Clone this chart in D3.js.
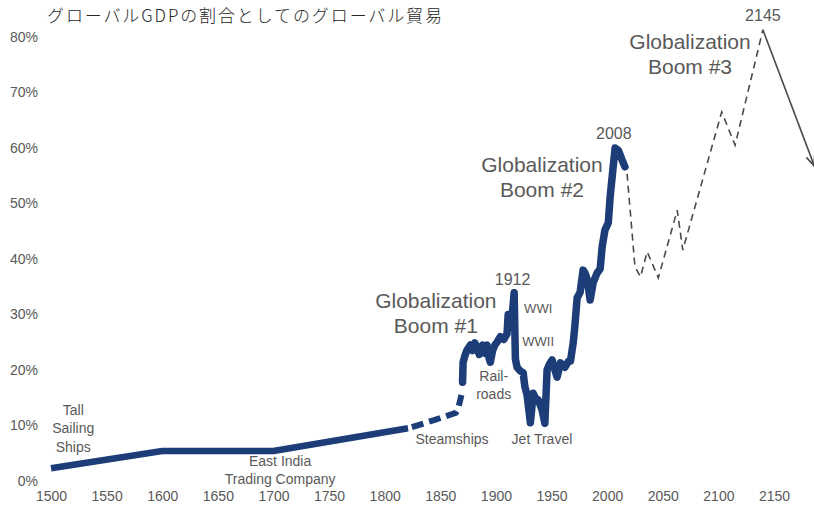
<!DOCTYPE html>
<html><head><meta charset="utf-8">
<script src="https://cdn.jsdelivr.net/npm/d3@7"></script>
<style>
html,body{margin:0;padding:0;background:#fff;}
svg{display:block;}
</style></head>
<body>
<svg id="c" width="814" height="507"></svg>
<script>
// ---- data ----
const xTicks = [1500,1550,1600,1650,1700,1750,1800,1850,1900,1950,2000,2050,2100,2150];
const yTicks = [0,10,20,30,40,50,60,70,80];

// era 1: sailing ships / trading companies (solid)
const earlyYears  = [1500, 1600, 1700, 1821];
const earlyValues = [2.3, 5.4, 5.4, 9.5];

// era 2: steamships (thick dashed)
const steamYears  = [1821, 1845, 1864, 1866, 1869];
const steamValues = [9.5, 11.0, 12.3, 13.0, 15.5];

// era 3: modern history (solid, volatile)
const modernYears  = [1870,1870.5,1872,1874,1877,1879,1881,1883,1885,1888,1890,1892,1894,1895,1897,1899,1901,1904,1907,1910,1911,1913.7,1916.4,1917.5,1919,1922,1924.5,1926,1928,1931,1933.5,1936,1938,1941.5,1944,1946,1948,1950.5,1953,1955,1958,1960,1962,1965,1967,1969.5,1971,1973,1975.7,1977,1978.4,1980,1982,1984.7,1987.4,1989,1991,1993.7,1995.5,1998,2001,2002.7,2005.4,2007.2,2010,2013.5,2016];
const modernValues = [17.8,21.4,22.5,23.6,24.5,23.5,24.9,24.0,22.8,24.5,23.0,24.5,22.0,21.4,23.5,24.5,25.0,26.0,25.5,26.5,30.0,27.7,33.9,22.0,20.5,19.8,19.5,17.0,15.5,10.5,15.8,14.8,14.6,12.8,10.4,20.0,21.0,21.8,20.0,18.7,21.3,20.8,20.5,21.5,21.6,24.9,28.0,33.0,34.0,36.0,38.0,37.5,36.4,32.6,35.7,36.5,37.5,38.2,42.2,45.2,46.5,51.2,56.6,60.0,59.6,57.8,56.6];

// era 4: projection (thin dashed)
const futureYears  = [2017, 2025, 2030, 2036, 2046, 2063, 2068, 2103, 2115, 2140];
const futureValues = [57.5, 38.6, 36.8, 41.3, 36.6, 48.8, 41.6, 66.5, 60.5, 81.3];

// decline arrow after the peak
const arrowYears  = [2140, 2186];
const arrowValues = [81.3, 56.9];

// annotations: anchor in data space (year, value)
const notes = [
  {lines:["Tall","Sailing","Ships"], year:1520, value:12.6, size:14},
  {lines:["East India","Trading Company"], year:1706, value:3.4, size:14},
  {lines:["Steamships"], year:1860.5, value:7.4, size:14},
  {lines:["Jet Travel"], year:1941.4, value:7.4, size:14},
  {lines:["Rail-","roads"], year:1898, value:18.7, size:14},
  {lines:["WWI"], year:1938, value:30.8, size:13},
  {lines:["WWII"], year:1938, value:25.0, size:13},
  {lines:["1912"], year:1915, value:36.0, size:16},
  {lines:["2008"], year:2006, value:62.3, size:16},
  {lines:["2145"], year:2140, value:83.6, size:16},
  {lines:["Globalization","Boom #1"], year:1846, value:32.1, size:21},
  {lines:["Globalization","Boom #2"], year:1941.4, value:56.6, size:21},
  {lines:["Globalization","Boom #3"], year:2074.5, value:78.9, size:21}
];
const subtitle = "グローバルGDPの割合としてのグローバル貿易";

// ---- drawing ----
const svg = d3.select("#c");
const x = d3.scaleLinear().domain([1500, 2150]).range([51, 774]);
const y = d3.scaleLinear().domain([0, 80]).range([481, 37]);

const grey = "#595959";
const navy = "#1c3d78";

// subtitle
svg.append("text").attr("x", 47).attr("y", 17)
  .attr("dominant-baseline", "middle")
  .attr("font-family", "'Noto Sans CJK JP', sans-serif")
  .attr("font-size", 17).attr("font-weight", 300).attr("fill", "#262626")
  .attr("textLength", 395).attr("lengthAdjust", "spacing")
  .text(subtitle);

// axes (labels only)
const xAxis = d3.axisBottom(x).tickValues(xTicks).tickFormat(d3.format("d")).tickSize(0).tickPadding(0);
const gx = svg.append("g").attr("transform", "translate(0,489)").call(xAxis);
gx.select(".domain").remove();
gx.selectAll("text").attr("font-family", "'Liberation Sans', Arial, sans-serif")
  .attr("font-size", 14).attr("fill", grey).attr("dy", "0.35em").attr("y", 7);

const yAxis = d3.axisLeft(y).tickValues(yTicks).tickFormat(d => d + "%").tickSize(0).tickPadding(0);
const gy = svg.append("g").attr("transform", "translate(38,0)").call(yAxis);
gy.select(".domain").remove();
gy.selectAll("text").attr("font-family", "'Liberation Sans', Arial, sans-serif")
  .attr("font-size", 14).attr("fill", grey);

const line = d3.line().x(d => x(d[0])).y(d => y(d[1]));
const zip = (a, b) => a.map((v, i) => [v, b[i]]);

// projection
svg.append("path").datum(zip(futureYears, futureValues))
  .attr("d", line).attr("fill", "none").attr("stroke", "#4a4a4a")
  .attr("stroke-width", 1.6).attr("stroke-dasharray", "7,5");

// arrow
const defs = svg.append("defs");
defs.append("marker").attr("id", "ah").attr("viewBox", "0 0 10 10")
  .attr("refX", 9).attr("refY", 5).attr("markerWidth", 7).attr("markerHeight", 7)
  .attr("orient", "auto")
  .append("path").attr("d", "M0,1 L10,5 L0,9").attr("fill", "none").attr("stroke", "#4a4a4a").attr("stroke-width", 1.6);
svg.append("path").datum(zip(arrowYears, arrowValues))
  .attr("d", line).attr("fill", "none").attr("stroke", "#4a4a4a")
  .attr("stroke-width", 1.6).attr("marker-end", "url(#ah)");

// historical
svg.append("path").datum(zip(earlyYears, earlyValues))
  .attr("d", line).attr("fill", "none").attr("stroke", navy)
  .attr("stroke-width", 6.5).attr("stroke-linejoin", "round");
svg.append("path").datum(zip(steamYears, steamValues))
  .attr("d", line).attr("fill", "none").attr("stroke", navy)
  .attr("stroke-width", 6).attr("stroke-dasharray", "12,6").attr("stroke-dashoffset", 14);
svg.append("path").datum(zip(modernYears, modernValues))
  .attr("d", line).attr("fill", "none").attr("stroke", navy)
  .attr("stroke-width", 7.5).attr("stroke-linejoin", "round").attr("stroke-linecap", "round");

// annotations
notes.forEach(n => {
  const t = svg.append("text")
    .attr("font-family", "'Liberation Sans', Arial, sans-serif")
    .attr("font-size", n.size).attr("fill", grey)
    .attr("text-anchor", "middle");
  const lh = n.size >= 20 ? 25 : 18.5;
  n.lines.forEach((s, i) => {
    t.append("tspan").attr("x", x(n.year)).attr("y", y(n.value) + i * lh)
      .attr("dominant-baseline", "middle").text(s);
  });
});
</script>
</body></html>
